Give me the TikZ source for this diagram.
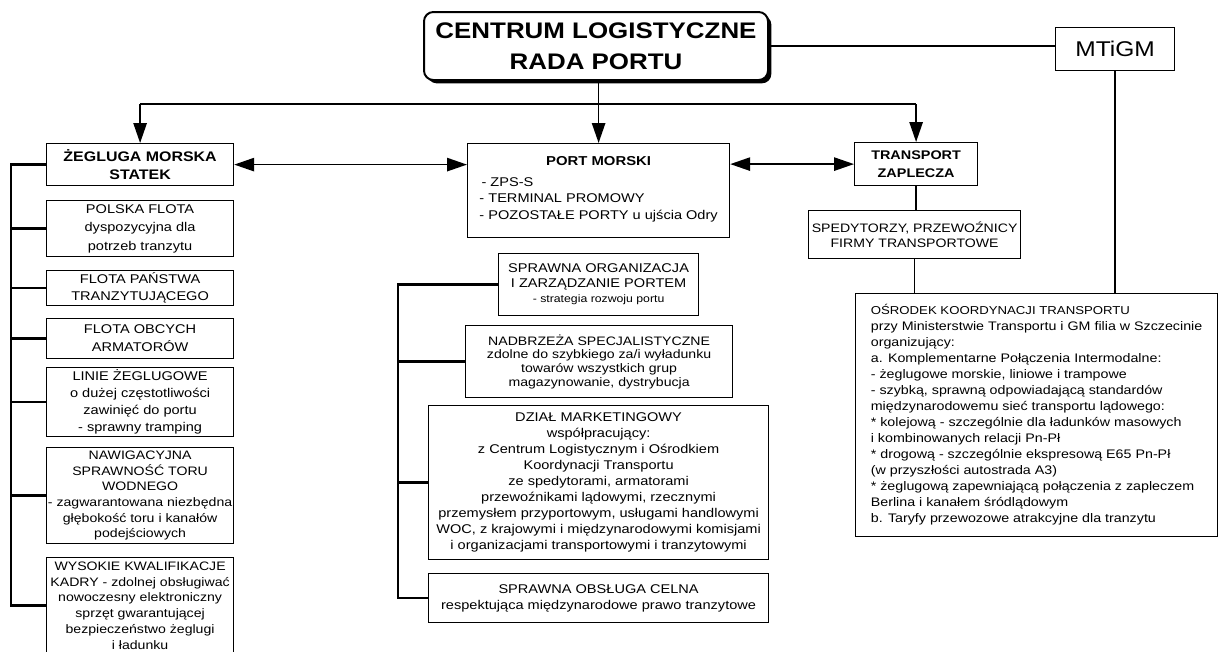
\documentclass[tikz,border=0pt]{standalone}
\usepackage{fontspec}
\setmainfont{Liberation Sans}[FakeStretch=1.15]
\usetikzlibrary{arrows.meta, positioning, shadows}

\tikzset{
  box/.style={draw, line width=0.9pt, fill=white, align=center, anchor=north west, inner sep=1pt},
  wd/.style={minimum width=#1*0.75pt},
  ht/.style={minimum height=#1*0.75pt},
  fnt/.style 2 args={font=\fontsize{#1}{#2}\selectfont},
  link/.style={line width=1.3pt},
  arr/.style={link, -{Triangle[length=15pt,width=10pt]}},
  darr/.style={link, {Triangle[length=15pt,width=10pt]}-{Triangle[length=15pt,width=10pt]}},
  bus/.style={line width=2pt},
}

\begin{document}
\begin{tikzpicture}[x=0.75pt, y=-0.75pt]
  \useasboundingbox (0,0) rectangle (1219,651);
  \clip (0,0) rectangle (1219,651);

  % top level
  \node[box, wd=344, ht=68, rounded corners=7pt, line width=1.5pt, fnt={16.9}{23},
        drop shadow={shadow xshift=2.5pt, shadow yshift=-2.5pt, opacity=1, fill=black}]
    (centrum) at (423,11) {\textbf{CENTRUM LOGISTYCZNE}\\\textbf{RADA PORTU}};
  \node[box, wd=119, ht=43, fnt={16}{18}] (mtigm) at (1055,27) {MTiGM};

  % second level
  \node[box, wd=187, ht=42, fnt={10.4}{13.5}] (zeg) at (46,143)
    {\textbf{ŻEGLUGA MORSKA}\\\textbf{STATEK}};
  \node[box, wd=262, ht=94, fnt={9.5}{12.4}] (port) at (467,143)
    {{\fontsize{9.7}{12}\selectfont\bfseries PORT MORSKI}\\[3pt]
     \begin{tabular}[t]{@{}l@{}}\,- ZPS-S\\- TERMINAL PROMOWY\\- POZOSTAŁE PORTY u ujścia Odry\end{tabular}};
  \node[box, wd=123, ht=43, fnt={9.4}{14}] (trans) at (854,142)
    {\textbf{TRANSPORT}\\\textbf{ZAPLECZA}};
  \node[box, wd=212, ht=48, fnt={9.2}{11.25}] (sped) at (808,210)
    {SPEDYTORZY, PRZEWOŹNICY\\FIRMY TRANSPORTOWE};
  \node[box, wd=362, ht=243, fnt={9.3}{12}, align=left] (okt) at (855,293)
    {{\fontsize{8.6}{12}\selectfont OŚRODEK KOORDYNACJI TRANSPORTU}\\
     przy Ministerstwie Transportu i GM filia w Szczecinie\\
     organizujący:\\
     a. Komplementarne Połączenia Intermodalne:\\
     - żeglugowe morskie, liniowe i trampowe\\
     - szybką, sprawną odpowiadającą standardów\\
     międzynarodowemu sieć transportu lądowego:\\
     * kolejową - szczególnie dla ładunków masowych\\
     i kombinowanych relacji Pn-Pł\\
     * drogową - szczególnie ekspresową E65 Pn-Pł\\
     (w przyszłości autostrada A3)\\
     * żeglugową zapewniającą połączenia z zapleczem\\
     Berlina i kanałem śródlądowym\\
     b. Taryfy przewozowe atrakcyjne dla tranzytu};

  % fleet column
  \node[box, wd=187, ht=56, fnt={9.5}{14}] (polska) at (46,200)
    {POLSKA FLOTA\\dyspozycyjna dla\\potrzeb tranzytu};
  \node[box, wd=187, ht=35, fnt={9.5}{12.75}] (panstwa) at (46,270)
    {FLOTA PAŃSTWA\\TRANZYTUJĄCEGO};
  \node[box, wd=187, ht=40, fnt={9.5}{13.5}] (obcych) at (46,318)
    {FLOTA OBCYCH\\ARMATORÓW};
  \node[box, wd=187, ht=69, fnt={9.5}{12.75}] (linie) at (46,367)
    {LINIE ŻEGLUGOWE\\o dużej częstotliwości\\zawinięć do portu\\- sprawny tramping};
  \node[box, wd=187, ht=96, fnt={9.2}{11.8}, inner ysep=0pt] (nawig) at (46,447)
    {NAWIGACYJNA\\SPRAWNOŚĆ TORU\\WODNEGO\\- zagwarantowana niezbędna\\głębokość toru i kanałów\\podejściowych};
  \node[box, wd=187, ht=96, fnt={9.2}{11.8}, inner ysep=0pt] (wys) at (46,557)
    {WYSOKIE KWALIFIKACJE\\KADRY - zdolnej obsługiwać\\nowoczesny elektroniczny\\sprzęt gwarantującej\\bezpieczeństwo żeglugi\\i ładunku};

  % port column
  \node[box, wd=200, ht=62, fnt={9.5}{11.25}] (sprawna) at (498,253)
    {SPRAWNA ORGANIZACJA\\I ZARZĄDZANIE PORTEM\\{\fontsize{8}{10}\selectfont - strategia rozwoju portu}};
  \node[box, wd=267, ht=72, fnt={9.2}{10.2}] (nadbrz) at (465,325)
    {NADBRZEŻA SPECJALISTYCZNE\\zdolne do szybkiego za/i wyładunku\\towarów wszystkich grup\\magazynowanie, dystrybucja};
  \node[box, wd=340, ht=154, fnt={9.5}{12}] (dzial) at (428,405)
    {DZIAŁ MARKETINGOWY\\współpracujący:\\z Centrum Logistycznym i Ośrodkiem\\Koordynacji Transportu\\ze spedytorami, armatorami\\przewoźnikami lądowymi, rzecznymi\\przemysłem przyportowym, usługami handlowymi\\WOC, z krajowymi i międzynarodowymi komisjami\\i organizacjami transportowymi i tranzytowymi};
  \node[box, wd=340, ht=49, fnt={9.5}{12}] (celna) at (428,573)
    {SPRAWNA OBSŁUGA CELNA\\respektująca międzynarodowe prawo tranzytowe};

  % distribution from the top
  \coordinate (busL) at (zeg.north |- 0,104);
  \coordinate (busR) at (trans.north |- 0,104);
  \draw[link] (busL) -- (busR);
  \draw[arr] (busL) -- (zeg.north);
  \draw[arr] (busR) -- (trans.north);
  \draw[arr] (port.north |- centrum.south) -- (port.north);
  \draw[link] (centrum.east) -- (centrum.east -| mtigm.west);
  \draw[link] (mtigm.south) -- (mtigm.south |- okt.north);

  % links between the three fields
  \draw[darr] (zeg.east) -- (zeg.east -| port.west);
  \draw[darr] (port.east |- trans.west) -- (trans.west);
  \draw[link] (trans.south) -- (trans.south |- sped.north);
  \draw[link] (sped.south) -- (sped.south |- okt.north);

  % left bus
  \draw[bus] (zeg.west) -- (zeg.west -| 11,0) |- (wys.west);
  \foreach \n in {polska,panstwa,obcych,linie,nawig}
    \draw[bus] (\n.west) -- (\n.west -| 11,0);

  % middle bus
  \draw[bus] (sprawna.west) -- (sprawna.west -| 398,0) |- (celna.west);
  \foreach \n in {nadbrz,dzial}
    \draw[bus] (\n.west) -- (\n.west -| 398,0);
\end{tikzpicture}
\end{document}
